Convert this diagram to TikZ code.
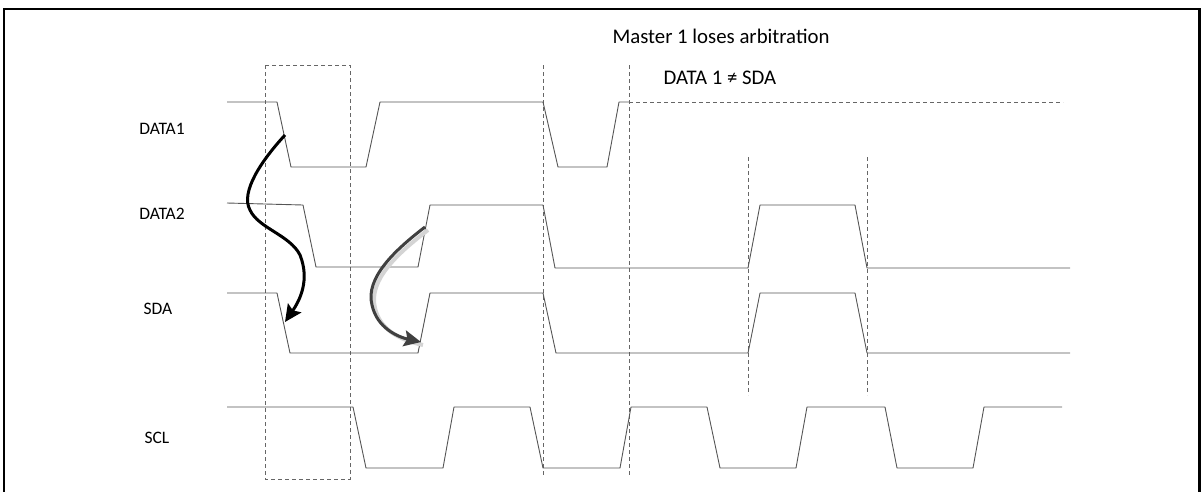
\documentclass[tikz,border=0pt]{standalone}
\usepackage{fontspec}
\setmainfont{Carlito}
\usetikzlibrary{arrows.meta}
\definecolor{sig}{HTML}{555555}
\definecolor{dsh}{HTML}{666666}
\definecolor{arr}{HTML}{404040}
\definecolor{shd}{HTML}{D4D4D4}
\begin{document}
\begin{tikzpicture}[x=1pt,y=-1pt,
  signal/.style={draw=sig,line width=0.9pt,line join=round},
  guide/.style={draw=dsh,line width=0.8pt,dash pattern=on 4pt off 3pt},
  lbl/.style={font=\fontsize{17.5}{20}\selectfont,inner sep=0pt},
  note/.style={font=\fontsize{20.8}{24}\selectfont,inner sep=0pt},
  bigarrow/.style={line width=3pt,-{Stealth[length=17pt,width=16pt,inset=3pt]}}]
\useasboundingbox (0,0) rectangle (1202,491);
% frame
\draw[line width=2.5pt] (4,493) -- (4,9) -- (1199.5,9) -- (1199.5,493);
% labels
\node[lbl] (l1) at (162,129) {DATA1};
\node[lbl] (l2) at (162,214) {DATA2};
\node[lbl] (l3) at (158,309) {SDA};
\node[lbl] (l4) at (157,438) {SCL};
\node[note] (t1) at (721,36) {Master 1 loses arbitration};
\node[note] (t2) at (720,78) {DATA 1 ≠ SDA};
% guides
\draw[guide] (265,65) rectangle (350,479);
\draw[guide] (543,65) -- (543,477);
\draw[guide] (629,65) -- (629,477);
\draw[guide] (748,157) -- (748,395);
\draw[guide] (867,157) -- (867,395);
% DATA1
\draw[signal] (227,102) -- (277,102) -- (291,167) -- (366,167) -- (380,102) -- (543,102) -- (558,167) -- (607,167) -- (619,102) -- (629,102);
\draw[guide] (629,102) -- (1063,102);
% DATA2
\draw[signal] (227,203) -- (303,205) -- (316,267) -- (418,267) -- (430,205) -- (543,205) -- (555,268) -- (748,268) -- (760,205) -- (855,205) -- (867,268) -- (1070,268);
% SDA
\draw[signal] (227,293) -- (277,293) -- (290,353) -- (418,353) -- (430,293) -- (543,293) -- (556,353) -- (748,353) -- (760,293) -- (855,293) -- (867,353) -- (1070,353);
% SCL
\draw[signal] (227,407) -- (353,407) -- (366,468) -- (443,468) -- (454,407) -- (530,407) -- (543,468) -- (620,468) -- (631,407) -- (707,407) -- (720,468) -- (796,468) -- (807,407) -- (885,407) -- (897,468) -- (973,468) -- (984,407) -- (1062,407);
% arrows
\coordinate (a1s) at (285,135);
\coordinate (a1m) at (250,210);
\coordinate (a1e) at (285,322);
\draw[bigarrow,black] (a1s) .. controls (262,160) and (240,192) .. (a1m)
  .. controls (258,228) and (290,235) .. (300,255)
  .. controls (310,280) and (300,300) .. (a1e);
\coordinate (a2s) at (425,227);
\coordinate (a2m) at (372,305);
\coordinate (a2e) at (421,342);
\draw[line width=4pt,shd] ([shift={(3,3)}]a2s) .. controls (398,253) and (368,280) .. ([shift={(3,3)}]a2m)
  .. controls (380,330) and (400,340) .. ([shift={(2,3)}]a2e);
\draw[bigarrow,arr] (a2s) .. controls (395,250) and (365,278) .. (a2m)
  .. controls (377,328) and (398,337) .. (a2e);
\end{tikzpicture}
\end{document}
